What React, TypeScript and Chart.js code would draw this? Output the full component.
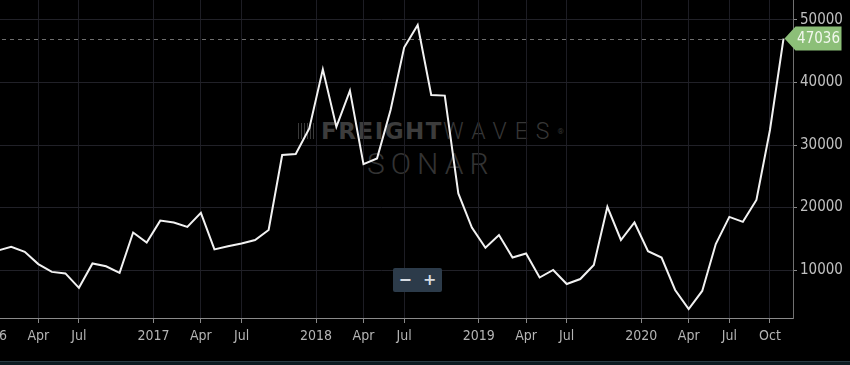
import React, { useEffect, useRef } from "react";
import { Chart, registerables } from "chart.js";

Chart.register(...registerables);

// Monthly categories (Jan 2016 .. Nov 2020)
const months: string[] = [
  "2016-01", "2016-02", "2016-03", "2016-04", "2016-05", "2016-06", "2016-07", "2016-08", "2016-09", "2016-10", "2016-11", "2016-12",
  "2017-01", "2017-02", "2017-03", "2017-04", "2017-05", "2017-06", "2017-07", "2017-08", "2017-09", "2017-10", "2017-11", "2017-12",
  "2018-01", "2018-02", "2018-03", "2018-04", "2018-05", "2018-06", "2018-07", "2018-08", "2018-09", "2018-10", "2018-11", "2018-12",
  "2019-01", "2019-02", "2019-03", "2019-04", "2019-05", "2019-06", "2019-07", "2019-08", "2019-09", "2019-10", "2019-11", "2019-12",
  "2020-01", "2020-02", "2020-03", "2020-04", "2020-05", "2020-06", "2020-07", "2020-08", "2020-09", "2020-10", "2020-11",
];

const values: number[] = [
  13100, 13700, 12900, 10950, 9700, 9450, 7150, 11050, 10600, 9550, 16000, 14400,
  17900, 17600, 16900, 19150, 13300, 13800, 14250, 14800, 16400, 28400, 28550, 32650,
  42100, 32900, 38700, 26950, 27850, 35600, 45600, 49200, 38000, 37900, 22250, 16800,
  13550, 15600, 12000, 12650, 8800, 10000, 7750, 8550, 10800, 20100, 14800, 17600,
  13000, 12000, 6800, 3750, 6650, 14150, 18500, 17700, 21200, 32400, 47036,
];

const xTickMonths: string[] = [
  "2016-01", "2016-04", "2016-07",
  "2017-01", "2017-04", "2017-07",
  "2018-01", "2018-04", "2018-07",
  "2019-01", "2019-04", "2019-07",
  "2020-01", "2020-04", "2020-07", "2020-10",
];
const xTickLabels: string[] = [
  "2016", "Apr", "Jul",
  "2017", "Apr", "Jul",
  "2018", "Apr", "Jul",
  "2019", "Apr", "Jul",
  "2020", "Apr", "Jul", "Oct",
];
const yTicks: number[] = [10000, 20000, 30000, 40000, 50000];

const NARROW = "'Liberation Sans Narrow', 'DejaVu Sans Condensed', 'Roboto Condensed', 'Roboto', sans-serif";

export default function App() {
  const canvasRef = useRef<HTMLCanvasElement | null>(null);

  useEffect(() => {
    const canvas = canvasRef.current;
    if (!canvas) return;

    const xTickValues = xTickMonths.map((m, k) => {
      const idx = months.indexOf(m);
      return /^\d{4}$/.test(xTickLabels[k]) ? idx - 0.5 : idx;
    });

    const lastLabel = {
      id: "lastLabel",
      beforeDatasetsDraw(chart: any) {
        const ctx = chart.ctx;
        const xs = chart.scales.x;
        const ys = chart.scales.y;
        const n = values.length - 1;
        const px = xs.getPixelForValue(n);
        const py = ys.getPixelForValue(values[n]);
        ctx.save();
        ctx.strokeStyle = "#6e6e6e";
        ctx.lineWidth = 1;
        ctx.setLineDash([4, 4]);
        ctx.beginPath();
        ctx.moveTo(chart.chartArea.left, Math.round(py) + 0.5);
        ctx.lineTo(px, Math.round(py) + 0.5);
        ctx.stroke();
        ctx.restore();
      },
      afterDraw(chart: any) {
        const ctx = chart.ctx;
        const xs = chart.scales.x;
        const ys = chart.scales.y;
        const n = values.length - 1;
        const px = xs.getPixelForValue(n);
        const py = ys.getPixelForValue(values[n]);
        ctx.save();
        ctx.fillStyle = "#8cbf78";
        ctx.beginPath();
        ctx.moveTo(px + 1, py);
        ctx.lineTo(px + 12, py - 12);
        ctx.lineTo(px + 58, py - 12);
        ctx.lineTo(px + 58, py + 12);
        ctx.lineTo(px + 12, py + 12);
        ctx.closePath();
        ctx.fill();
        ctx.fillStyle = "#f2f8ee";
        ctx.font = "15px " + NARROW;
        ctx.textAlign = "center";
        ctx.textBaseline = "middle";
        ctx.fillText(String(values[n]), px + 35, py + 1);
        ctx.restore();
      },
    };

    const chart = new Chart(canvas, {
      type: "line",
      data: {
        datasets: [
          {
            data: values.map((v, i) => ({ x: i, y: v })),
            borderColor: "#f2f2f2",
            borderWidth: 2,
            pointRadius: 0,
            tension: 0,
            fill: false,
          },
        ],
      },
      options: {
        animation: false,
        responsive: false,
        devicePixelRatio: 1,
        layout: { padding: 0 },
        plugins: { legend: { display: false }, tooltip: { enabled: false } },
        scales: {
          x: {
            type: "linear",
            min: -2.04,
            max: 58.7,
            afterBuildTicks: (s: any) => {
              s.ticks = xTickValues.map((v) => ({ value: v }));
            },
            afterFit: (s: any) => {
              s.height = 47;
              s.paddingLeft = 0;
              s.paddingRight = 0;
            },
            ticks: {
              autoSkip: false,
              maxRotation: 0,
              color: "#b4b4b4",
              padding: 5,
              font: { family: NARROW, size: 14 },
              callback: (_v: any, i: number) => xTickLabels[i],
            },
            grid: { color: "#1d1d24", tickColor: "#8a8a8a", tickLength: 5, lineWidth: 1 },
            border: { color: "#8a8a8a", width: 1 },
          },
          y: {
            type: "linear",
            position: "right",
            min: 2320,
            max: 53200,
            afterBuildTicks: (s: any) => {
              s.ticks = yTicks.map((v) => ({ value: v }));
            },
            afterFit: (s: any) => {
              s.width = 57;
              s.paddingTop = 0;
              s.paddingBottom = 0;
            },
            ticks: {
              color: "#c0c0c0",
              padding: 3,
              font: { family: NARROW, size: 15 },
              callback: (v: any) => String(v),
            },
            grid: { color: "#212128", tickColor: "#8a8a8a", tickLength: 4, lineWidth: 1 },
            border: { color: "#707070", width: 1 },
          },
        },
      },
      plugins: [lastLabel],
    } as any);

    return () => chart.destroy();
  }, []);

  return (
    <div
      style={{
        position: "fixed",
        left: 0,
        top: 0,
        width: 850,
        height: 365,
        overflow: "hidden",
        background: "#000",
      }}
    >
      {/* watermark */}
      <div
        style={{
          position: "absolute",
          left: 298,
          top: 123,
          width: 19,
          height: 16,
          background: "repeating-linear-gradient(90deg, #3a3a3a 0 1.5px, transparent 1.5px 3px)",
        }}
      />
      <div
        style={{
          position: "absolute",
          left: 321,
          top: 120,
          whiteSpace: "nowrap",
          fontSize: 23,
          lineHeight: "23px",
          color: "#3c3c3c",
        }}
      >
        <span style={{ fontFamily: "'DejaVu Sans', sans-serif", fontWeight: 700, letterSpacing: 1.5 }}>FREIGHT</span>
        <span style={{ fontFamily: "Roboto, sans-serif", fontWeight: 300, letterSpacing: 8, color: "#363636" }}>WAVES</span>
        <span style={{ fontFamily: "Roboto, sans-serif", fontSize: 8, verticalAlign: "top", color: "#363636" }}>®</span>
      </div>
      <div
        style={{
          position: "absolute",
          left: 367,
          top: 149,
          whiteSpace: "nowrap",
          fontFamily: "Roboto, sans-serif",
          fontWeight: 300,
          fontSize: 30,
          lineHeight: "30px",
          letterSpacing: 6,
          color: "#333333",
        }}
      >
        SONAR
      </div>
      <canvas
        ref={canvasRef}
        width={880}
        height={365}
        style={{ position: "absolute", left: -30, top: 0, width: 880, height: 365 }}
      />
      {/* zoom buttons */}
      <div
        style={{
          position: "absolute",
          left: 393,
          top: 268,
          width: 49,
          height: 24,
          background: "#2c3b4a",
          borderRadius: 2,
          display: "flex",
          alignItems: "center",
          justifyContent: "space-around",
          fontFamily: "'DejaVu Sans', sans-serif",
          fontWeight: 700,
          fontSize: 16,
          color: "#d6dce2",
          lineHeight: "24px",
        }}
      >
        <span>−</span>
        <span>+</span>
      </div>
      {/* bottom strip */}
      <div
        style={{
          position: "absolute",
          left: 0,
          top: 361,
          width: 850,
          height: 4,
          background: "#0d1a20",
          borderTop: "1px solid #2a3a42",
        }}
      />
    </div>
  );
}
